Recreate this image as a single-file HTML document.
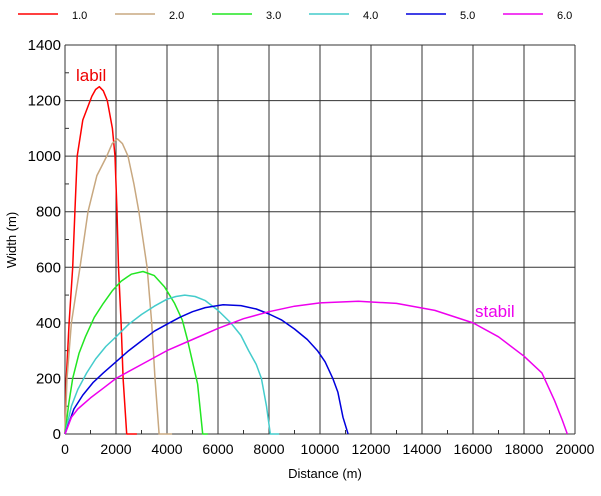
<!DOCTYPE html>
<html><head><meta charset="utf-8"><style>
body{margin:0;background:#fff;}
svg{font-family:"Liberation Sans",sans-serif;display:block;}
</style></head><body>
<svg id="chart" width="601" height="496" xmlns="http://www.w3.org/2000/svg"></svg>
<script>
const seriesNames=["1.0","2.0","3.0","4.0","5.0","6.0"];
const seriesColors=["#ff0000","#c8a880","#22e622","#44cccc","#0000dd","#ee00ee"];
const s1x=[0,50,160,300,390,480,700,1050,1200,1345,1500,1660,1860,1960,2040,2100,2200,2280,2420,2820];
const s1y=[0,200,400,600,800,1000,1130,1215,1240,1250,1235,1200,1100,1000,800,600,400,200,0,0];
const s2x=[0,80,250,590,900,1250,1640,1850,2060,2250,2470,2700,2900,3220,3400,3530,3690,4200];
const s2y=[0,200,400,600,800,930,1000,1045,1062,1045,1000,900,800,600,400,200,0,0];
const s3x=[0,150,300,550,800,1150,1500,1850,2200,2600,3060,3500,3900,4300,4600,4800,5000,5200,5400,5600];
const s3y=[0,110,200,290,350,420,470,515,550,575,585,570,530,470,410,340,260,180,0,0];
const s4x=[0,250,500,850,1200,1600,2000,2500,3000,3500,4000,4350,4700,5100,5500,6000,6500,6900,7200,7500,7700,7900,8050,8400];
const s4y=[0,100,160,220,270,315,350,395,430,460,485,495,500,495,480,445,400,355,300,250,200,100,0,0];
const s5x=[0,350,700,1100,1500,2000,2500,3000,3500,4000,4500,5000,5500,6200,6900,7500,8000,8500,9000,9500,9900,10200,10500,10700,10900,11100];
const s5y=[0,90,140,185,220,260,300,335,370,395,420,440,455,465,462,450,432,410,378,340,300,260,200,150,60,0];
const s6x=[0,250,500,1000,1500,2000,3000,4000,5000,6000,7000,8000,9000,10000,11500,13000,14500,16000,17000,18000,18700,19200,19500,19700];
const s6y=[0,60,90,130,165,200,250,300,340,380,415,440,460,472,478,470,445,400,350,280,220,120,50,0];
const xTicks=[0,2000,4000,6000,8000,10000,12000,14000,16000,18000,20000];
const yTicks=[0,200,400,600,800,1000,1200,1400];
const allX=[s1x,s2x,s3x,s4x,s5x,s6x], allY=[s1y,s2y,s3y,s4y,s5y,s6y];
const X0=65,X1=575,Y0=434,Y1=45;
const sx=v=>X0+(v/20000)*(X1-X0);
const sy=v=>Y0-(v/1400)*(Y0-Y1);
const svg=document.getElementById('chart');
const NS="http://www.w3.org/2000/svg";
function mk(t,a,txt){const e=document.createElementNS(NS,t);for(const k in a)e.setAttribute(k,a[k]);if(txt!==undefined)e.textContent=txt;svg.appendChild(e);return e;}
xTicks.forEach(v=>{const l=mk('line',{x1:sx(v),x2:sx(v),y1:Y1,y2:Y0,stroke:'#333','stroke-width':1});


const t=mk('text',{x:sx(v),y:Y0+20,'text-anchor':'middle','font-size':14,fill:'#000'},String(v));

});
for(let v=1000;v<20000;v+=2000){const l=mk('line',{x1:sx(v),x2:sx(v),y1:Y0-4,y2:Y0,stroke:'#333'});

}
yTicks.forEach(v=>{const l=mk('line',{x1:X0,x2:X1,y1:sy(v),y2:sy(v),stroke:'#333','stroke-width':1});


const t=mk('text',{x:X0-4,y:sy(v)+5,'text-anchor':'end','font-size':15,fill:'#000'},String(v));

});
for(let v=100;v<1400;v+=200){const l=mk('line',{x1:X0,x2:X0+4,y1:sy(v),y2:sy(v),stroke:'#333'});

}
allX.forEach((xs,i)=>{const d=xs.map((x,j)=>(j?'L':'M')+sx(x).toFixed(1)+','+sy(allY[i][j]).toFixed(1)).join('');
const p=mk('path',{d:d,fill:'none',stroke:seriesColors[i],'stroke-width':1.5,'stroke-linejoin':'round'});


const lx=18+i*97;
const ll=mk('line',{x1:lx,x2:lx+40,y1:14,y2:14,stroke:seriesColors[i],'stroke-width':1.5});


const lt=mk('text',{x:lx+54,y:19,'font-size':11,fill:'#000'},seriesNames[i]);

});
const a=mk('text',{x:76,y:81,'font-size':17,fill:'#ee0000'},'labil');


const b=mk('text',{x:475,y:317,'font-size':17,fill:'#ee00ee'},'stabil');


const xt=mk('text',{x:325,y:478,'text-anchor':'middle','font-size':13,fill:'#000'},'Distance (m)');


const yt=mk('text',{x:16,y:240,'text-anchor':'middle','font-size':13,fill:'#000',transform:'rotate(-90 16 240)'},'Width (m)');


</script>
</body></html>
